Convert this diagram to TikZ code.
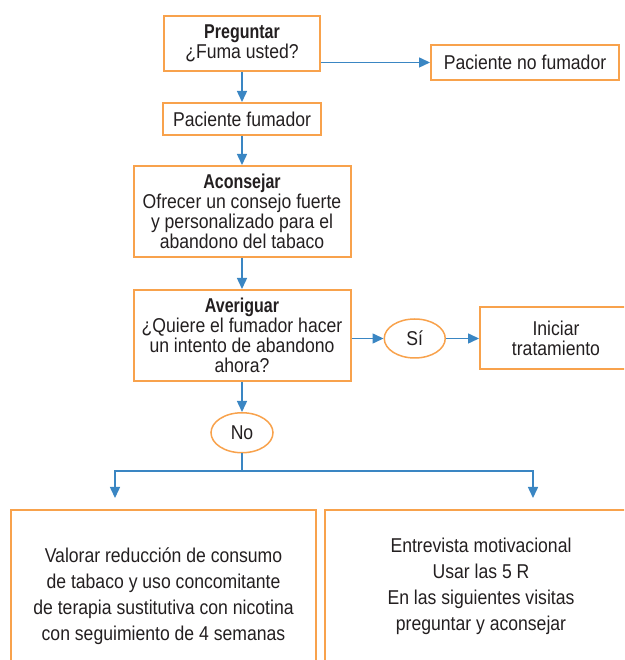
\documentclass[tikz,border=0pt]{standalone}
\usepackage{fontspec}
\setmainfont{Liberation Sans}[FakeStretch=0.88, BoldFeatures={FakeStretch=0.8}]
\usepackage{xcolor}
\usepackage{tikz}
\usetikzlibrary{arrows.meta}
\usetikzlibrary{shapes.geometric}
\usetikzlibrary{positioning}

\definecolor{borde}{HTML}{F8A24C}
\definecolor{flecha}{HTML}{3A86C3}
\definecolor{texto}{HTML}{231F20}

\begin{document}
\begin{tikzpicture}[x=1pt,y=1pt,>={Triangle[length=11pt,width=10pt]},node distance=30pt,font=\fontsize{20}{20}\selectfont,text=texto]
 	\tikzstyle{caja}=[draw=borde, line width=2pt, rectangle, align=center, inner sep=4pt]
 	\tikzstyle{resp}=[draw=borde, line width=1.5pt, ellipse, minimum width=62pt, minimum height=40pt, inner sep=0pt]
 	\tikzstyle{flujo}=[draw=flecha, line width=1.5pt]
 	\clip (0,0) rectangle (624,660);
 	\node[caja, minimum width=156pt, minimum height=55pt] (preg) at (242,616.5) {\textbf{Preguntar}\\¿Fuma usted?};
 	\node[caja, minimum width=188pt, minimum height=35pt] (nofum) at (525,597.5) {Paciente no fumador};
 	\node[caja, minimum width=158pt, minimum height=32pt] (fum) [below=30pt of preg] {Paciente fumador};
 	\node[caja, minimum width=217pt, minimum height=91pt] (acons) [below=29pt of fum] {\textbf{Aconsejar}\\Ofrecer un consejo fuerte\\y personalizado para el\\abandono del tabaco};
 	\node[caja, minimum width=217pt, minimum height=91pt] (aver) [below=31pt of acons] {\textbf{Averiguar}\\¿Quiere el fumador hacer\\un intento de abandono\\ahora?};
 	\node[resp, minimum width=61pt, minimum height=39pt] (si) [right=32pt of aver, yshift=-3pt] {Sí};
 	\node[caja, minimum width=152pt, minimum height=62pt] (ini) [right=33pt of si] {Iniciar\\tratamiento};
 	\node[resp] (no) [below=30pt of aver] {No};
 	\node[caja, font=\fontsize{20}{26}\selectfont, minimum width=305pt, minimum height=172pt] (valorar) at (163.5,64) {Valorar reducción de consumo\\de tabaco y uso concomitante\\de terapia sustitutiva con nicotina\\con seguimiento de 4 semanas};
 	\node[caja, font=\fontsize{20}{26}\selectfont, minimum width=312pt, minimum height=152pt] (entrev) at (481,74) {Entrevista motivacional\\Usar las 5 R\\En las siguientes visitas\\preguntar y aconsejar};
 	\coordinate (split) at (242,189);
 	\coordinate (izq) at (115,162);
 	\coordinate (der) at (533,162);
 	\draw[flujo,->] (preg) -- (fum);
 	\draw[flujo,->] (fum) -- (acons);
 	\draw[flujo,->] (acons) -- (aver);
 	\draw[flujo,->] (aver) -- (no);
 	\draw[flujo,->] (preg.east |- nofum) -- (nofum);
 	\draw[flujo,->] (aver.east |- si) -- (si);
 	\draw[flujo,->] (si) -- (ini);
 	\draw[flujo] (no) -- (split);
 	\draw[flujo,->] (split) -| (izq);
 	\draw[flujo,->] (split) -| (der);
\end{tikzpicture}
\end{document}
